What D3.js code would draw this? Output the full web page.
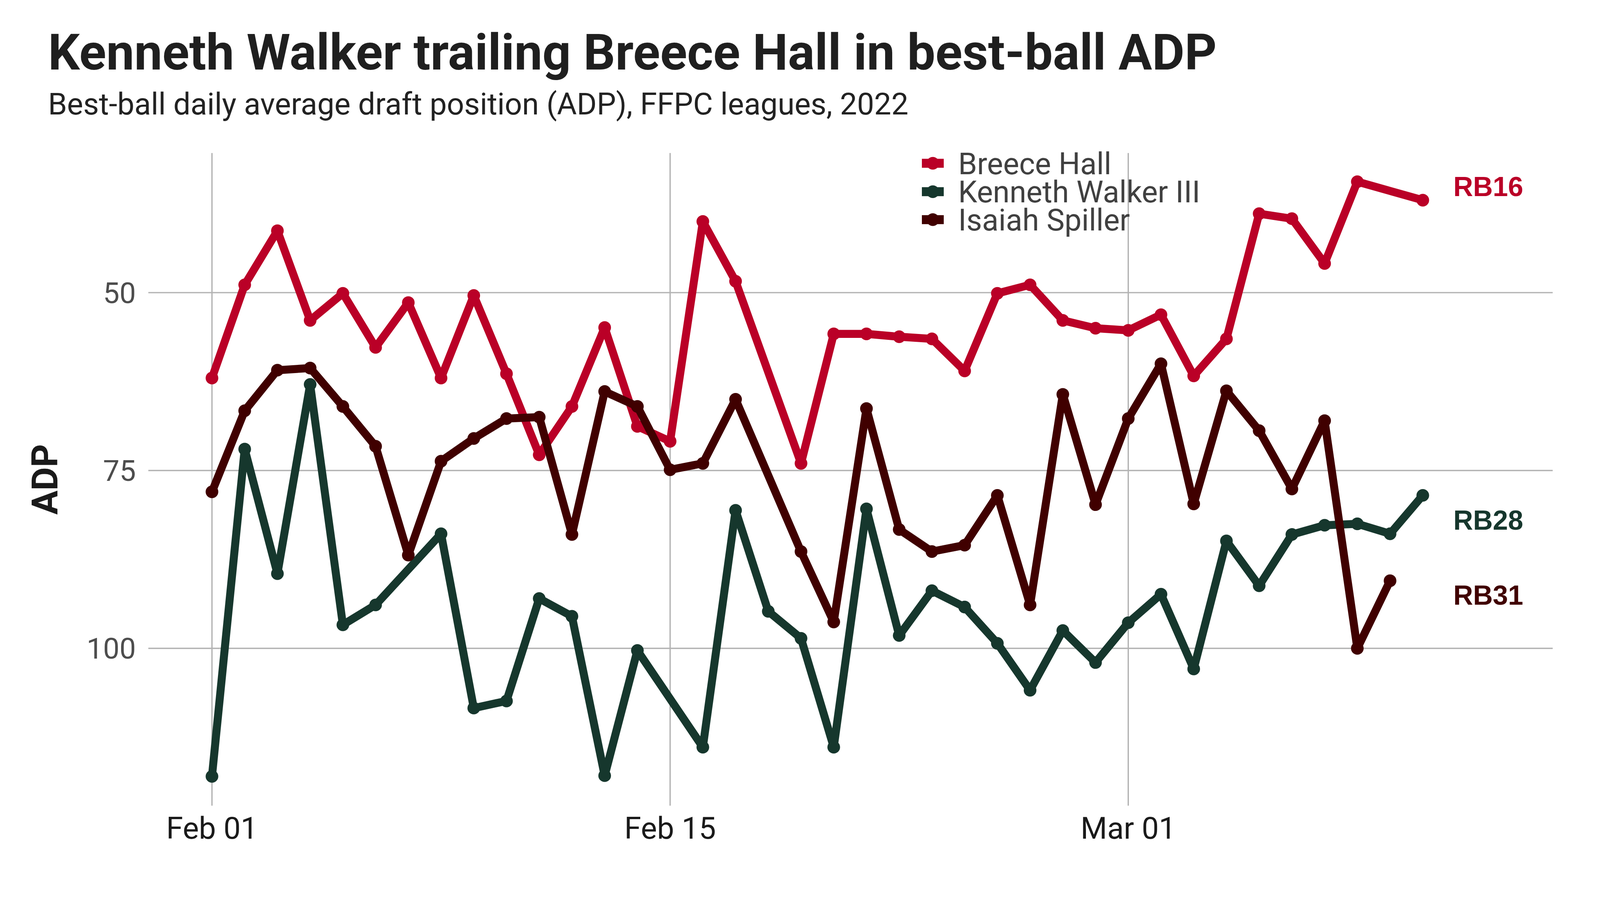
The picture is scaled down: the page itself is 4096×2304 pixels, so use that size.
<!DOCTYPE html>
<meta charset="utf-8">
<style>
	body { margin: 0; background: #fff; }
	svg { display: block; }
	.title { font-family: Roboto, sans-serif; font-weight: 700; fill: #1f1f1f; }
	.subtitle { font-family: Roboto, sans-serif; font-weight: 400; fill: #222; }
	.tick-y { font-family: Roboto, sans-serif; fill: #4d4d4d; }
	.tick-x { font-family: Roboto, sans-serif; fill: #1a1a1a; }
	.legend text { font-family: Roboto, sans-serif; fill: #404040; }
	.rank { font-family: "Liberation Sans", Arial, sans-serif; font-weight: 700; }
</style>
<script src="https://cdn.jsdelivr.net/npm/d3@7"></script>
<body>
<div id="chart"></div>
<script>
	// daily dates, Feb 01 .. Mar 10 2022
	let days = [
		"2022-02-01", "2022-02-02", "2022-02-03", "2022-02-04", "2022-02-05", "2022-02-06", "2022-02-07",
		"2022-02-08", "2022-02-09", "2022-02-10", "2022-02-11", "2022-02-12", "2022-02-13", "2022-02-14",
		"2022-02-15", "2022-02-16", "2022-02-17", "2022-02-18", "2022-02-19", "2022-02-20", "2022-02-21",
		"2022-02-22", "2022-02-23", "2022-02-24", "2022-02-25", "2022-02-26", "2022-02-27", "2022-02-28",
		"2022-03-01", "2022-03-02", "2022-03-03", "2022-03-04", "2022-03-05", "2022-03-06", "2022-03-07",
		"2022-03-08", "2022-03-09", "2022-03-10"
	];

	// ADP per day, null = no value that day
	let hall = [62.0, 48.9, 41.3, 53.9, 50.1, 57.7, 51.4, 62.0, 50.4, 61.4, 72.8, 66.0, 54.9, 68.8,
		70.9, 40.0, 48.4, null, 74.0, 55.8, 55.8, 56.2, 56.5, 61.0, 50.1, 48.9, 53.9, 55.0,
		55.3, 53.1, 61.7, 56.5, 38.9, 39.6, 45.9, 34.4, null, 37.0];
	let walker = [118.0, 72.0, 89.5, 62.9, 96.7, 93.9, null, 83.9, 108.4, 107.4, 93.0, 95.5, 117.9, 100.3,
		null, 113.9, 80.6, 94.8, 98.6, 113.9, 80.4, 98.2, 91.9, 94.2, 99.3, 105.9, 97.5, 102.0,
		96.4, 92.4, 102.9, 84.9, 91.2, 84.0, 82.7, 82.5, 83.9, 78.5];
	let spiller = [78.0, 66.6, 60.9, 60.6, 66.0, 71.6, 86.9, 73.7, 70.5, 67.7, 67.5, 84.0, 63.9, 66.0,
		74.9, 74.0, 65.0, null, 86.4, 96.3, 66.3, 83.3, 86.4, 85.5, 78.5, 93.9, 64.3, 79.8,
		67.7, 60.0, 79.7, 63.8, 69.4, 77.6, 68.0, 100.0, 90.5, null];

	let players = ["Breece Hall", "Kenneth Walker III", "Isaiah Spiller"];
	let colors = ["#ba0027", "#16372d", "#400000"];

	let rankLabels = ["RB16", "RB28", "RB31"];
	let rankDay = "2022-03-12";
	let rankAdp = [35.05, 81.96, 92.46];

	let yTicks = [50, 75, 100];
	let xTicks = ["2022-02-01", "2022-02-15", "2022-03-01"];

	let W = 4096, H = 2304;
	let margin = { top: 391.7, right: W - 3974.9, bottom: H - 2062.5, left: 379.7 };

	let svg = d3.select("#chart")
		.append("svg")
		.attr("width", W)
		.attr("height", H);

	let parse = d3.timeParse("%Y-%m-%d");
	let dayMs = 86400000;
	let t0 = parse("2022-02-01").getTime();

	let x = d3.scaleTime()
		.domain([new Date(t0 - 1.945 * dayMs), new Date(t0 + 40.97 * dayMs)])
		.range([margin.left, W - margin.right]);

	let y = d3.scaleLinear()
		.domain([30.37, 122.12])
		.range([margin.top, H - margin.bottom]);

	// grid
	let grid = svg.append("g")
		.attr("stroke", "#b3b3b3")
		.attr("stroke-width", 3.4);

	grid.selectAll("line.h")
		.data(yTicks)
		.join("line")
		.attr("class", "h")
		.attr("x1", margin.left)
		.attr("x2", W - margin.right)
		.attr("y1", d => y(d))
		.attr("y2", d => y(d));

	grid.selectAll("line.v")
		.data(xTicks)
		.join("line")
		.attr("class", "v")
		.attr("x1", d => x(parse(d)))
		.attr("x2", d => x(parse(d)))
		.attr("y1", margin.top)
		.attr("y2", H - margin.bottom);

	// axis labels
	svg.append("g")
		.selectAll("text")
		.data(yTicks)
		.join("text")
		.attr("class", "tick-y")
		.attr("x", 348)
		.attr("y", d => y(d))
		.attr("dy", "0.355em")
		.attr("text-anchor", "end")
		.style("font-size", "75px")
		.text(d => d);

	svg.append("g")
		.selectAll("text")
		.data(xTicks)
		.join("text")
		.attr("class", "tick-x")
		.attr("x", d => x(parse(d)))
		.attr("y", 2147)
		.attr("text-anchor", "middle")
		.style("font-size", "78px")
		.text(d => d3.timeFormat("%b %d")(parse(d)));

	svg.append("text")
		.attr("class", "title")
		.attr("transform", "translate(146.8," + ((margin.top + H - margin.bottom) / 2) + ") rotate(-90)")
		.attr("text-anchor", "middle")
		.style("font-size", "92px")
		.style("fill", "#1a1a1a")
		.text("ADP");

	// series
	let series = [hall, walker, spiller].map((vals, i) => ({
		name: players[i],
		color: colors[i],
		points: vals.map((v, j) => ({ date: parse(days[j]), adp: v })).filter(p => p.adp !== null)
	}));

	let line = d3.line()
		.x(d => x(d.date))
		.y(d => y(d.adp));

	let plot = svg.append("g");

	series.forEach(s => {
		let g = plot.append("g");
		g.append("path")
			.datum(s.points)
			.attr("d", line)
			.attr("fill", "none")
			.attr("stroke", s.color)
			.attr("stroke-width", 20.5)
			.attr("stroke-linejoin", "round")
			.attr("stroke-linecap", "butt");
		g.selectAll("circle")
			.data(s.points)
			.join("circle")
			.attr("cx", d => x(d.date))
			.attr("cy", d => y(d.adp))
			.attr("r", 16.2)
			.attr("fill", s.color);
	});

	// rank labels
	svg.append("g")
		.selectAll("text")
		.data(rankLabels)
		.join("text")
		.attr("class", "rank")
		.attr("x", x(parse(rankDay)))
		.attr("y", (d, i) => y(rankAdp[i]))
		.attr("dy", "0.36em")
		.attr("text-anchor", "middle")
		.style("font-size", "70px")
		.style("fill", (d, i) => colors[i])
		.text(d => d);

	// legend
	let legend = svg.append("g").attr("class", "legend");
	let legendY = [418, 490.7, 562.3];

	let key = legend.selectAll("g")
		.data(players)
		.join("g")
		.attr("transform", (d, i) => "translate(2360," + legendY[i] + ")");

	key.append("rect")
		.attr("x", 0)
		.attr("y", -11.5)
		.attr("width", 56)
		.attr("height", 23)
		.attr("fill", (d, i) => colors[i]);

	key.append("circle")
		.attr("cx", 28)
		.attr("cy", 0)
		.attr("r", 16.2)
		.attr("fill", (d, i) => colors[i]);

	key.append("text")
		.attr("x", 93)
		.attr("y", 0)
		.attr("dy", "0.355em")
		.style("font-size", "77.5px")
		.text(d => d);

	// title
	svg.append("text")
		.attr("class", "title")
		.attr("x", 123)
		.attr("y", 178.3)
		.style("font-size", "128px")
		.text("Kenneth Walker trailing Breece Hall in best-ball ADP");

	svg.append("text")
		.attr("class", "subtitle")
		.attr("x", 123)
		.attr("y", 292.7)
		.style("font-size", "78px")
		.text("Best-ball daily average draft position (ADP), FFPC leagues, 2022");
</script>
</body>
